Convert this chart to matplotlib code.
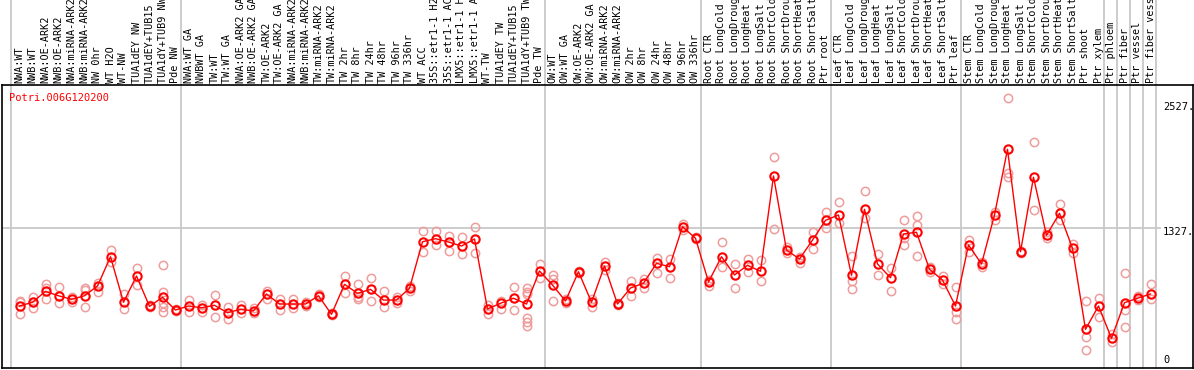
import matplotlib
matplotlib.use("Agg")
import matplotlib.pyplot as plt
import matplotlib.transforms as mtransforms

gene = "Potri.006G120200"

samples = [
    "NWA:WT", "NWB:WT", "NWA:OE-ARK2", "NWB:OE-ARK2", "NWA:miRNA-ARK2", "NWB:miRNA-ARK2",
    "NW 0hr", "WT H2O", "WT-NW", "TUA1dEY NW", "TUA1dEY+TUB15", "TUA1dY+TUB9 NW", "Pde NW",
    "NWA:WT GA", "NWBWT GA", "TW:WT", "TW:WT GA", "NWA:OE-ARK2 GA", "NWB:OE-ARK2 GA",
    "TW:OE-ARK2", "TW:OE-ARK2 GA", "NWA:miRNA-ARK2", "NWB:miRNA-ARK2", "TW:miRNA-ARK2",
    "TW:miRNA-ARK2", "TW 2hr", "TW 8hr", "TW 24hr", "TW 48hr", "TW 96hr", "TW 336hr",
    "WT ACC", "35S::etr1-1 H2O", "35S::etr1-1 ACC", "LMX5::etr1-1 H2O", "LMX5::etr1-1 ACC",
    "WT-TW", "TUA1dEY TW", "TUA1dEY+TUB15", "TUA1dY+TUB9 TW", "Pde TW",
    "OW:WT", "OW:WT GA", "OW:OE-ARK2", "OW:OE-ARK2 GA", "OW:miRNA-ARK2", "OW:miRNA-ARK2",
    "OW 2hr", "OW 8hr", "OW 24hr", "OW 48hr", "OW 96hr", "OW 336hr",
    "Root CTR", "Root LongCold", "Root LongDrought", "Root LongHeat", "Root LongSalt",
    "Root ShortCold", "Root ShortDrought", "Root ShortHeat", "Root ShortSalt", "Ptr root",
    "Leaf CTR", "Leaf LongCold", "Leaf LongDrought", "Leaf LongHeat", "Leaf LongSalt",
    "Leaf ShortCold", "Leaf ShortDrought", "Leaf ShortHeat", "Leaf ShortSalt", "Ptr leaf",
    "Stem CTR", "Stem LongCold", "Stem LongDrought", "Stem LongHeat", "Stem LongSalt",
    "Stem ShortCold", "Stem ShortDrought", "Stem ShortHeat", "Stem ShortSalt", "Ptr shoot",
    "Ptr xylem", "Ptr phloem", "Ptr fiber", "Ptr vessel", "Ptr fiber vessel",
]

means = [
    586, 622, 726, 684, 650, 684, 777, 1056, 622, 872, 583, 669, 548,
    586, 570, 593, 522, 555, 539, 701, 605, 605, 605, 684, 507, 793, 707, 745, 643,
    643, 755, 1199, 1228, 1196, 1158, 1225, 558, 612, 660, 605, 920,
    786, 634, 913, 622, 968, 605, 758, 803, 993, 961, 1342, 1232,
    815, 1056, 882, 974, 917, 1826, 1120, 1034, 1215, 1403,
    1454, 879, 1508, 987, 856, 1273, 1289, 936, 834, 586,
    1168, 987, 1454, 2080, 1104, 1813, 1260, 1470, 1136, 364,
    586, 278, 618, 660, 701,
]

replicates = [
    [637, 627, 507], [675, 622, 564], [796, 761, 650], [770, 612], [675, 627],
    [761, 739, 580], [803, 723], [1120, 1009], [698, 555], [946, 786],
    [596, 574], [974, 723, 612, 580, 529], [555, 539],
    [643, 532], [593, 532], [688, 479], [574, 459], [599, 517], [570, 522],
    [732, 653], [653, 551], [650, 564], [627, 586], [698, 675], [517, 500],
    [872, 713], [796, 675, 650], [850, 634], [729, 574], [675, 612], [777, 732],
    [1304, 1104], [1304, 1165], [1254, 1113], [1241, 1082], [1337, 1089],
    [596, 510], [637, 558], [770, 545], [755, 723, 701, 469, 437, 396], [984, 850],
    [882, 841, 634], [653, 612], [920, 904], [653, 580], [1009, 929], [618, 593],
    [825, 684], [841, 755], [1047, 898], [1037, 850], [1368, 1311], [1241, 1222],
    [834, 777], [1196, 961], [987, 755], [1031, 913], [1025, 825], [2004, 1317],
    [1152, 1089], [1056, 999], [1295, 1127], [1482, 1327],
    [1581, 1375], [1063, 827, 745], [1680, 1422], [1082, 879], [946, 729],
    [1406, 1232, 1168], [1444, 1358, 1063], [961, 913], [872, 793], [765, 532, 459],
    [1215, 1104], [1009, 955], [1485, 1406], [2566, 1857, 1813], [1113, 1089],
    [2147, 1501], [1295, 1232], [1556, 1406], [1177, 1094], [634, 294, 167],
    [660, 479], [319, 246], [904, 548, 383], [682, 643], [796, 650],
]

# index of the last sample in each group (gray dividers)
group_ends = [12, 40, 52, 62, 72, 83, 84, 85, 86, 87]
ref_levels = [2527, 1327]

W, H = 1194, 370
fig = plt.figure(figsize=(W / 100, H / 100), dpi=100)
left_px, right_px, top_px, bot_px = 1.5, 1193, 85, 367.5
ax = fig.add_axes([left_px / W, (H - bot_px) / H,
                   (right_px - left_px) / W, (bot_px - top_px) / H])

# x: sample i sits at 19.5 + 13*i pixels
ax.set_xlim((left_px - 19.5) / 13, (right_px - 19.5) / 13)
ax.set_ylim(0, 2693)
ax.set_xticks([])
ax.set_yticks([])
for s in ax.spines.values():
    s.set_color("black")
    s.set_linewidth(1.2)

mono = "DejaVu Sans Mono"
gray = "#c8c8c8"
trans = mtransforms.blended_transform_factory(ax.transData, ax.transAxes)
ytop = (bot_px - 0) / (bot_px - top_px)

ax.axvline(-0.65, ymin=0, ymax=ytop, color=gray, lw=1.3, clip_on=False, zorder=0)
for g in group_ends:
    ax.axvline(g + 0.4, ymin=0, ymax=ytop, color=gray, lw=1.3, clip_on=False, zorder=0)

ax.axhline(1327, xmin=0, xmax=0.972, color=gray, lw=1.3, zorder=0)

xs = list(range(len(samples)))
for i, reps in enumerate(replicates):
    ax.plot([i] * len(reps), reps, "o", ms=6, mfc="none", mec="#ef9c9c",
            mew=1.1, zorder=2)
ax.plot(xs, means, "-", color="red", lw=1, zorder=3)
ax.plot(xs, means, "o", ms=6, mfc="none", mec="red", mew=1.5, zorder=4)

for i, lbl in enumerate(samples):
    ax.text(i, 1.007, lbl, transform=trans, rotation=90, ha="center", va="bottom",
            fontsize=7.3, family=mono, clip_on=False)

ax.text(0.006, 0.955, gene, transform=ax.transAxes, color="red", fontsize=7.5,
        family=mono, ha="left", va="center")

xlab = (1163 - 19.5) / 13
for v in ref_levels:
    ax.annotate(f"{v}.", (xlab, v), xytext=(0, -3), textcoords="offset points",
                ha="left", va="center", fontsize=7.5, family=mono)
ax.annotate("0", (xlab, 0), xytext=(0, 2), textcoords="offset points",
            ha="left", va="bottom", fontsize=7.5, family=mono)

fig.savefig("out.png", dpi=100)
